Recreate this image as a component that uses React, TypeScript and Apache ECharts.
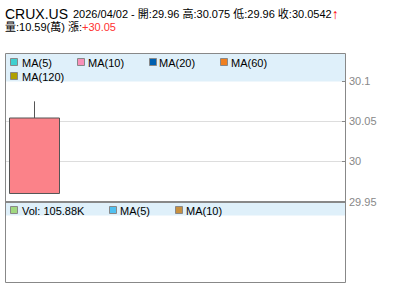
import React, { useEffect, useRef } from "react";
import * as echarts from "echarts";

const symbol = "CRUX.US";
const dateLabel = "2026/04/02";
const categories = ["2026/04/02", "", "", "", "", ""];
// [open, close, low, high]
const candles = [[29.96, 30.0542, 29.96, 30.075]];
const volumeWan = 10.59;
const volumeLabel = "105.88K";
const change = "+30.05";
const yMin = 29.95;
const yMax = 30.1;
const yInterval = 0.05;

const maNames = ["MA(5)", "MA(10)", "MA(20)", "MA(60)", "MA(120)"];
const maColors = ["#40d0d0", "#f890b8", "#0060b0", "#f08020", "#b0a000"];
const volLegendNames = ["Vol: " + volumeLabel, "MA(5)", "MA(10)"];
const volLegendColors = ["#a0d880", "#50c0f0", "#c89040"];

const FONT = "'Liberation Sans', Arial, 'Noto Sans CJK TC', sans-serif";

export default function App() {
  const ref = useRef<HTMLDivElement>(null);
  useEffect(() => {
    if (!ref.current) return;
    const chart = echarts.init(ref.current, null, { renderer: "svg" });
    const o = candles[0];

    const mainLegendPos = [
      { x: 10.5, y: 58.5, tx: 22 },
      { x: 77.5, y: 58.5, tx: 88 },
      { x: 149.5, y: 58.5, tx: 159 },
      { x: 220.5, y: 58.5, tx: 231 },
      { x: 10.5, y: 72.5, tx: 22 },
    ];
    const volLegendPos = [
      { x: 10.5, y: 206.5, tx: 22 },
      { x: 109.5, y: 206.5, tx: 120 },
      { x: 175.5, y: 206.5, tx: 186 },
    ];

    const graphics: any[] = [
      { type: "rect", z: 0, shape: { x: 6, y: 54, width: 339, height: 27.5 }, style: { fill: "#dff0fa" }, silent: true },
      { type: "rect", z: 0, shape: { x: 6, y: 203, width: 339, height: 12.5 }, style: { fill: "#dff0fa" }, silent: true },
    ];
    maNames.forEach((n, i) => {
      const p = mainLegendPos[i];
      graphics.push({ type: "rect", z: 5, shape: { x: p.x, y: p.y, width: 7, height: 7 }, style: { fill: maColors[i], stroke: "#888", lineWidth: 1 } });
      graphics.push({ type: "text", z: 5, x: p.tx, y: p.y + 4, style: { text: n, fill: "#000", font: `11px ${FONT}`, verticalAlign: "middle" } });
    });
    volLegendNames.forEach((n, i) => {
      const p = volLegendPos[i];
      graphics.push({ type: "rect", z: 5, shape: { x: p.x, y: p.y, width: 7, height: 7 }, style: { fill: volLegendColors[i], stroke: "#888", lineWidth: 1 } });
      graphics.push({ type: "text", z: 5, x: p.tx, y: p.y + 4, style: { text: n, fill: "#000", font: `11px ${FONT}`, verticalAlign: "middle" } });
    });
    // panel borders
    graphics.push({ type: "rect", z: 10, shape: { x: 5.5, y: 53.5, width: 340, height: 229 }, style: { fill: "none", stroke: "#888", lineWidth: 1 } });
    graphics.push({ type: "line", z: 10, shape: { x1: 6, y1: 202, x2: 345, y2: 202 }, style: { stroke: "#888", lineWidth: 2 } });
    // title
    graphics.push({
      type: "text",
      z: 10,
      x: 5,
      y: 13.5,
      style: {
        text: `{a|${symbol}}{b|${dateLabel} - 開:${o[0]} 高:${o[3]} 低:${o[2]} 收:${o[1]}}{r|↑}`,
        verticalAlign: "middle",
        rich: {
          a: { font: `14px ${FONT}`, fill: "#000", padding: [0, 5, 0, 0] },
          b: { font: `11px ${FONT}`, fill: "#000" },
          r: { font: `bold 14px ${FONT}`, fill: "#ff0000" },
        },
      },
    });
    graphics.push({
      type: "text",
      z: 10,
      x: 5,
      y: 26.5,
      style: {
        text: `{b|量:${volumeWan}(萬) 漲:}{r|${change}}`,
        verticalAlign: "middle",
        rich: {
          b: { font: `11px ${FONT}`, fill: "#000" },
          r: { font: `11px ${FONT}`, fill: "#ff3030" },
        },
      },
    });

    chart.setOption({
      animation: false,
      grid: { left: 6, right: 55, top: 81.3, bottom: 99.5 },
      xAxis: {
        type: "category",
        data: categories,
        boundaryGap: true,
        axisLine: { show: false },
        axisTick: { show: false },
        axisLabel: { show: false },
        splitLine: { show: false },
      },
      yAxis: {
        type: "value",
        position: "right",
        min: yMin,
        max: yMax,
        interval: yInterval,
        scale: true,
        axisLine: { show: false },
        axisTick: { show: true, inside: true, length: 3, lineStyle: { color: "#888" } },
        axisLabel: { color: "#888", fontSize: 11, fontFamily: FONT, margin: 4 },
        splitLine: { show: true, showMinLine: false, showMaxLine: false, lineStyle: { color: "#ddd", width: 1 } },
      },
      series: [
        {
          type: "candlestick",
          data: candles,
          barWidth: 50,
          itemStyle: {
            color: "#fb8289",
            color0: "#50c050",
            borderColor: "#555",
            borderColor0: "#555",
            borderWidth: 1,
          },
        },
      ],
      graphic: graphics,
    });
    return () => chart.dispose();
  }, []);
  return <div ref={ref} style={{ position: "fixed", left: 0, top: 0, width: 400, height: 301, background: "#fff" }} />;
}
